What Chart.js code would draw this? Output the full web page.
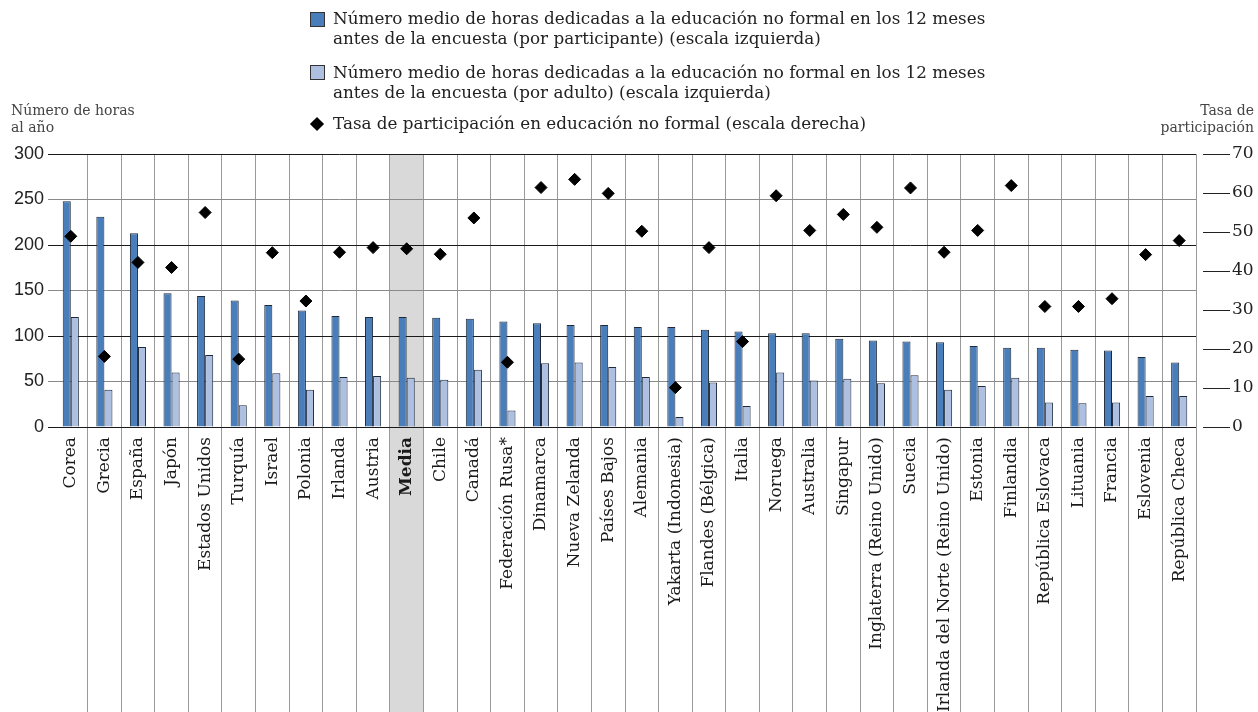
<!DOCTYPE html>
<html>
<head>
<meta charset="utf-8">
<script src="https://cdn.jsdelivr.net/npm/chart.js@4"></script>
<style>
  body { margin: 0; background: #fff; }
  #wrap { position: relative; width: 1258px; height: 712px; overflow: hidden; }
  #chart { position: absolute; left: 0; top: 0; }
  .leg { position: absolute; left: 333px; font: 16.8px "DejaVu Serif"; line-height: 20px; color: #222; white-space: nowrap; }
  .box { position: absolute; left: 310px; width: 13px; height: 13px; border: 1px solid #333; }
  .diam { position: absolute; left: 312px; width: 10px; height: 10px; background: #000; transform: rotate(45deg); }
  .ttl { position: absolute; font: 14px "DejaVu Serif"; line-height: 17px; color: #444; white-space: nowrap; }
</style>
</head>
<body>
<div id="wrap">
  <canvas id="chart" width="1258" height="712"></canvas>

  <div class="box" style="top:12px;background:#4a7ebb"></div>
  <div class="leg" style="top:8px">Número medio de horas dedicadas a la educación no formal en los 12 meses<br>antes de la encuesta (por participante) (escala izquierda)</div>
  <div class="box" style="top:65px;background:#aec0e2"></div>
  <div class="leg" style="top:62px">Número medio de horas dedicadas a la educación no formal en los 12 meses<br>antes de la encuesta (por adulto) (escala izquierda)</div>
  <div class="diam" style="top:119px"></div>
  <div class="leg" style="top:113px">Tasa de participación en educación no formal (escala derecha)</div>

  <div class="ttl" style="left:11px;top:102px">Número de horas<br>al año</div>
  <div class="ttl" style="right:4px;top:102px;text-align:right">Tasa de<br>participación</div>
</div>

<script>
// Countries, ordered as in the figure
const categories = [
  'Corea', 'Grecia', 'España', 'Japón', 'Estados Unidos', 'Turquía', 'Israel', 'Polonia',
  'Irlanda', 'Austria', 'Media', 'Chile', 'Canadá', 'Federación Rusa*', 'Dinamarca',
  'Nueva Zelanda', 'Países Bajos', 'Alemania', 'Yakarta (Indonesia)', 'Flandes (Bélgica)',
  'Italia', 'Noruega', 'Australia', 'Singapur', 'Inglaterra (Reino Unido)', 'Suecia',
  'Irlanda del Norte (Reino Unido)', 'Estonia', 'Finlandia', 'República Eslovaca',
  'Lituania', 'Francia', 'Eslovenia', 'República Checa'
];

// Hours per participant (left scale)
const hoursPerParticipant = [
  248, 231, 213, 147, 144, 139, 134, 128, 122, 121, 121, 120, 119, 116, 114,
  112, 112, 110, 110, 107, 105, 103, 103, 97, 95, 94, 93, 89, 87, 87,
  85, 84, 77, 71
];

// Hours per adult (left scale)
const hoursPerAdult = [
  121, 41, 88, 60, 79, 24, 59, 41, 55, 56, 54, 52, 63, 18, 70,
  71, 66, 55, 11, 49, 23, 60, 51, 53, 48, 57, 41, 45, 54, 27,
  26, 27, 34, 34
];

// Participation rate, % (right scale)
const participationRate = [
  48.9, 18.1, 42.2, 40.9, 55.0, 17.4, 44.7, 32.3, 44.8, 46.0, 45.7, 44.3, 53.6, 16.6, 61.4,
  63.5, 59.9, 50.2, 10.1, 46.0, 21.9, 59.3, 50.4, 54.5, 51.2, 61.3, 44.8, 50.4, 61.9, 30.9,
  30.9, 32.9, 44.2, 47.8
];

const hoursMax = 300, hoursStep = 50;
const rateMax = 70, rateStep = 10;
const averageLabel = 'Media';

const serif = 'DejaVu Serif';

// grey band behind the average column
const averageBand = {
  id: 'averageBand',
  beforeDraw(chart) {
    const xs = chart.scales.x;
    const i = categories.indexOf(averageLabel);
    const half = (xs.getPixelForValue(1) - xs.getPixelForValue(0)) / 2;
    const c = chart.ctx;
    c.save();
    c.fillStyle = '#d9d9d9';
    c.fillRect(xs.getPixelForValue(i) - half, chart.chartArea.top, half * 2, chart.height - chart.chartArea.top);
    c.restore();
  }
};

const edgeLine = ctx => (ctx.index === 0 || ctx.index === categories.length) ? 'rgba(0,0,0,0)' : '#999';

new Chart(document.getElementById('chart'), {
  data: {
    labels: categories,
    datasets: [
      {
        type: 'line',
        label: 'Tasa de participación',
        data: participationRate,
        yAxisID: 'y2',
        showLine: false,
        pointStyle: 'rectRot',
        pointRadius: 6,
        backgroundColor: '#000',
        borderColor: '#000',
        order: 0
      },
      {
        type: 'bar',
        label: 'Por participante',
        data: hoursPerParticipant,
        yAxisID: 'y',
        backgroundColor: '#4a7ebb',
        borderColor: '#1e2a3a',
        borderWidth: 1,
        categoryPercentage: 0.48,
        barPercentage: 1,
        order: 1
      },
      {
        type: 'bar',
        label: 'Por adulto',
        data: hoursPerAdult,
        yAxisID: 'y',
        backgroundColor: '#aec0e2',
        borderColor: '#1e2a3a',
        borderWidth: 1,
        categoryPercentage: 0.48,
        barPercentage: 1,
        order: 1
      }
    ]
  },
  options: {
    responsive: false,
    animation: false,
    layout: { padding: { top: 154, left: 0, right: 0, bottom: 0 } },
    plugins: { legend: { display: false }, tooltip: { enabled: false } },
    scales: {
      x: {
        offset: true,
        border: { display: false },
        grid: { offset: true, color: edgeLine, tickColor: edgeLine, tickLength: 285, lineWidth: 1 },
        ticks: {
          autoSkip: false,
          maxRotation: 90,
          minRotation: 90,
          padding: -275,
          color: '#1a1a1a',
          font: ctx => ({ family: serif, size: 17, weight: categories[ctx.index] === averageLabel ? 'bold' : 'normal' })
        },
        afterFit: s => { s.height = 285; }
      },
      y: {
        position: 'left',
        min: 0,
        max: hoursMax,
        border: { display: false },
        grid: {
          color: ctx => (ctx.tick && ctx.tick.value % 100 === 0) ? '#1a1a1a' : '#8a8a8a',
          tickLength: 6
        },
        ticks: { stepSize: hoursStep, color: '#222', padding: 4, font: { family: 'Liberation Sans', size: 18 } },
        afterFit: s => { s.width = 54; }
      },
      y2: {
        position: 'right',
        min: 0,
        max: rateMax,
        border: { display: false },
        grid: {
          drawOnChartArea: false,
          tickLength: 34,
          tickColor: '#222',
          tickBorderDash: [0, 7, 27, 100]
        },
        ticks: { stepSize: rateStep, color: '#222', padding: 2, font: { family: serif, size: 17 } },
        afterFit: s => { s.width = 62; }
      }
    }
  },
  plugins: [averageBand]
});
</script>
</body>
</html>
